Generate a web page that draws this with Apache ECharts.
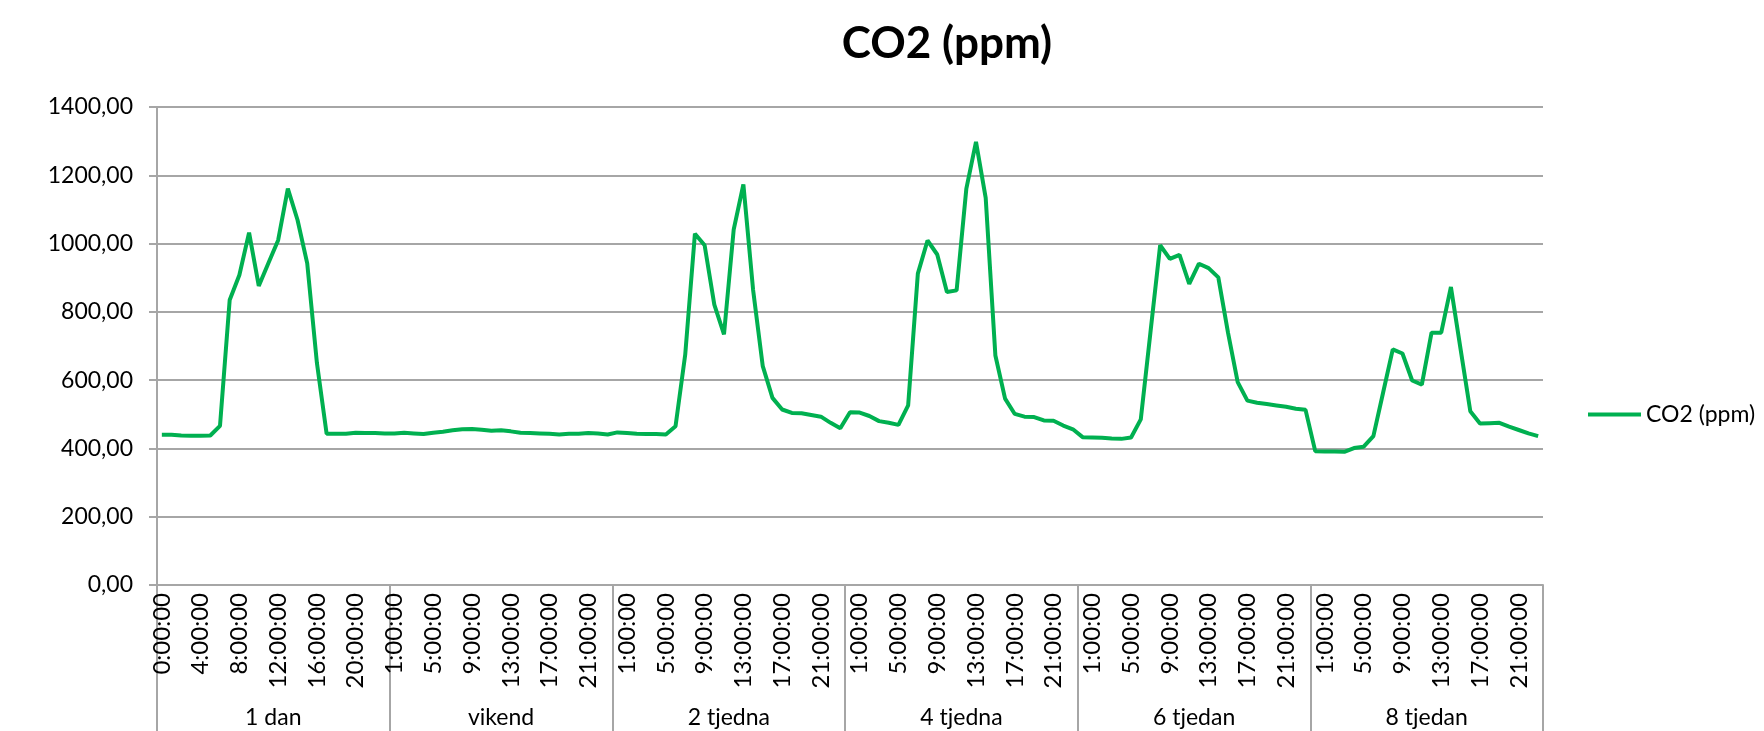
<!DOCTYPE html>
<html>
<head>
<meta charset="utf-8">
<script src="https://cdn.jsdelivr.net/npm/echarts@6/dist/echarts.min.js"></script>
<style>
html,body{margin:0;padding:0;background:#fff;}
#chart{width:1764px;height:731px;}
</style>
</head>
<body>
<div id="chart"></div>
<script>
// ---- data ----
const groupNames = ['1 dan', 'vikend', '2 tjedna', '4 tjedna', '6 tjedan', '8 tjedan'];
const hoursFullDay = ['0:00:00','1:00:00','2:00:00','3:00:00','4:00:00','5:00:00','6:00:00','7:00:00','8:00:00','9:00:00','10:00:00','11:00:00','12:00:00','13:00:00','14:00:00','15:00:00','16:00:00','17:00:00','18:00:00','19:00:00','20:00:00','21:00:00','22:00:00','23:00:00'];
const hoursVikend = ['1:00:00','2:00:00','3:00:00','4:00:00','5:00:00','6:00:00','7:00:00','8:00:00','9:00:00','10:00:00','11:00:00','12:00:00','13:00:00','14:00:00','15:00:00','16:00:00','17:00:00','18:00:00','19:00:00','20:00:00','21:00:00','22:00:00','23:00:00'];
const co2_1dan    = [440,440,438,437,437,438,466,835,908,1032,876,943,1010,1161,1069,942,650,443,443,443,446,445,445,444];
const co2_vikend  = [444,446,444,442,446,449,453,456,457,455,452,453,450,446,445,444,443,441,443,443,445,444,441];
const co2_2tjedna = [447,445,443,442,442,441,465,675,1029,995,821,734,1041,1173,865,641,548,514,504,503,498,493,475,459];
const co2_4tjedna = [506,505,495,480,475,469,526,912,1009,968,858,863,1160,1298,1134,672,546,501,493,492,482,481,467,456];
const co2_6tjedan = [433,432,431,429,428,432,485,740,995,955,967,882,941,928,901,739,594,540,534,530,526,522,516,513];
const co2_8tjedan = [392,391,391,390,401,405,436,563,690,678,599,587,739,739,873,690,509,473,474,475,464,454,444,436];
const yTicks = [0, 200, 400, 600, 800, 1000, 1200, 1400];
const seriesName = 'CO2 (ppm)';

// ---- build ----
const groupHours = [hoursFullDay, hoursVikend, hoursFullDay, hoursFullDay, hoursFullDay, hoursFullDay];
const groupValues = [co2_1dan, co2_vikend, co2_2tjedna, co2_4tjedna, co2_6tjedan, co2_8tjedan];
const categories = [];
const values = [];
const bounds = [0];
const centers = [];
groupValues.forEach((vals, g) => {
  const start = bounds[bounds.length - 1];
  vals.forEach((v, k) => { values.push(v); categories.push(groupHours[g][k]); });
  bounds.push(start + vals.length);
  centers.push(start + vals.length / 2);
});
const total = values.length;

const FONT = 'Lato';
const GRID_COLOR = '#a6a6a6';

const chart = echarts.init(document.getElementById('chart'), null, {renderer: 'canvas'});
chart.setOption({
  backgroundColor: '#ffffff',
  animation: false,
  title: {
    text: seriesName,
    left: 942,
    top: 17,
    textAlign: 'center',
    textStyle: {fontFamily: FONT, fontWeight: 'bold', fontSize: 44, color: '#000'}
  },
  legend: {
    left: 1583,
    top: 398,
    orient: 'vertical',
    itemWidth: 53,
    itemHeight: 4,
    icon: 'rect',
    itemGap: 5,
    textStyle: {fontFamily: FONT, fontSize: 23, color: '#000', padding: [0, 0, 0, 0]},
    data: [seriesName]
  },
  grid: {left: 157, right: 221, top: 107, bottom: 146, containLabel: false},
  xAxis: [
    {
      type: 'category',
      data: categories,
      boundaryGap: true,
      axisLine: {show: true, lineStyle: {color: GRID_COLOR, width: 2}},
      axisTick: {show: false},
      axisLabel: {
        interval: 3,
        rotate: 90,
        margin: 8,
        fontFamily: FONT,
        fontSize: 24,
        color: '#000'
      },
      splitLine: {show: false}
    },
    {
      type: 'value',
      min: 0,
      max: total,
      position: 'bottom',
      axisLine: {show: false},
      splitLine: {show: false},
      axisTick: {
        show: true,
        customValues: bounds,
        length: 150,
        lineStyle: {color: GRID_COLOR, width: 2}
      },
      axisLabel: {
        customValues: centers,
        margin: 121,
        fontFamily: FONT,
        fontSize: 23,
        color: '#000',
        formatter: function (v) {
          const idx = centers.findIndex(c => Math.abs(c - v) < 1e-6);
          return idx >= 0 ? groupNames[idx] : '';
        }
      }
    }
  ],
  yAxis: {
    type: 'value',
    min: yTicks[0],
    max: yTicks[yTicks.length - 1],
    interval: yTicks[1] - yTicks[0],
    axisLine: {show: true, lineStyle: {color: GRID_COLOR, width: 2}},
    axisTick: {show: true, length: 8, lineStyle: {color: GRID_COLOR, width: 2}},
    axisLabel: {
      margin: 24,
      fontFamily: FONT,
      fontSize: 23,
      color: '#000',
      formatter: function (v) { return v.toFixed(2).replace('.', ','); }
    },
    splitLine: {show: true, lineStyle: {color: GRID_COLOR, width: 2}}
  },
  series: [{
    name: seriesName,
    type: 'line',
    xAxisIndex: 0,
    data: values,
    showSymbol: false,
    symbol: 'none',
    lineStyle: {color: '#00b050', width: 4},
    itemStyle: {color: '#00b050'}
  }]
});
</script>
</body>
</html>
